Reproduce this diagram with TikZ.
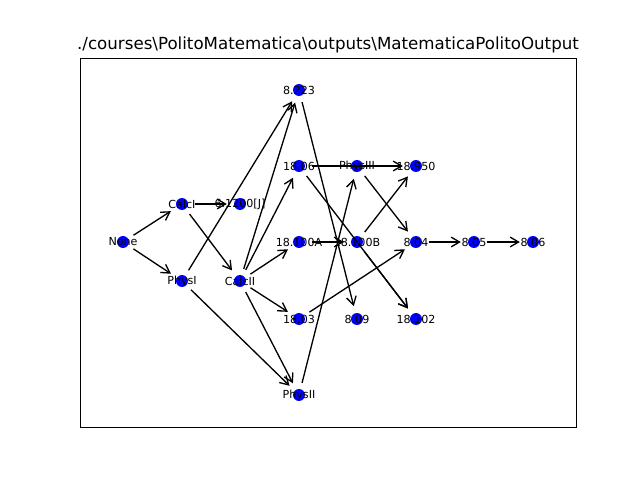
\documentclass[tikz,border=0pt]{standalone}
\usepackage{fontspec}
\setmainfont{DejaVu Sans}
\usepackage{tikz}
\usetikzlibrary{arrows.meta}

\begin{document}
\begin{tikzpicture}[x=0.72pt,y=-0.72pt,
    course/.style={circle,fill=blue,inner sep=0pt,minimum size=8.6pt,
      label={[font=\fontsize{8}{9}\selectfont,inner sep=0pt]center:#1}},
    prereq/.style={-{Straight Barb[length=6pt,width=7pt]},line width=0.95pt,
      shorten <=4.5pt,shorten >=5pt}]
      \useasboundingbox (0,0) rectangle (640,480);
      \draw[line width=0.6pt] (80,58) rectangle (576,427);
      \node[anchor=base,font=\fontsize{12}{14}\selectfont] (T) at (328,49)
        {./courses\textbackslash PolitoMatematica\textbackslash outputs\textbackslash MatematicaPolitoOutput};
      \node[course=None] (A) at (123,242) {};
      \node[course=CalcI] (B) at (182,204) {};
      \node[course=PhysI] (C) at (182,281) {};
      \node[course={6.1200[J]}] (D) at (240,204) {};
      \node[course=CalcII] (E) at (240,281) {};
      \node[course=8.223] (F) at (299,90) {};
      \node[course=18.06] (G) at (299,166) {};
      \node[course=18.100A] (H) at (299,242) {};
      \node[course=18.03] (I) at (299,319) {};
      \node[course=PhysII] (J) at (299,395) {};
      \node[course=PhysIII] (K) at (357,166) {};
      \node[course=18.100B] (L) at (357,242) {};
      \node[course=8.09] (M) at (357,319) {};
      \node[course=18.950] (N) at (416,166) {};
      \node[course=8.04] (O) at (416,242) {};
      \node[course=18.102] (P) at (416,319) {};
      \node[course=8.05] (Q) at (474,242) {};
      \node[course=8.06] (R) at (533,242) {};
      \draw[prereq] (A) -- (B);
      \draw[prereq] (A) -- (C);
      \draw[prereq] (B) -- (D);
      \draw[prereq] (B) -- (E);
      \draw[prereq] (C) -- (F);
      \draw[prereq] (C) -- (J);
      \draw[prereq] (E) -- (F);
      \draw[prereq] (E) -- (G);
      \draw[prereq] (E) -- (H);
      \draw[prereq] (E) -- (I);
      \draw[prereq] (E) -- (J);
      \draw[prereq] (F) -- (M);
      \draw[prereq] (G) -- (N);
      \draw[prereq] (G) -- (P);
      \draw[prereq] (H) -- (L);
      \draw[prereq] (L) -- (N);
      \draw[prereq] (L) -- (P);
      \draw[prereq] (J) -- (K);
      \draw[prereq] (K) -- (O);
      \draw[prereq] (I) -- (O);
      \draw[prereq] (O) -- (Q);
      \draw[prereq] (Q) -- (R);
    \end{tikzpicture}
\end{document}
